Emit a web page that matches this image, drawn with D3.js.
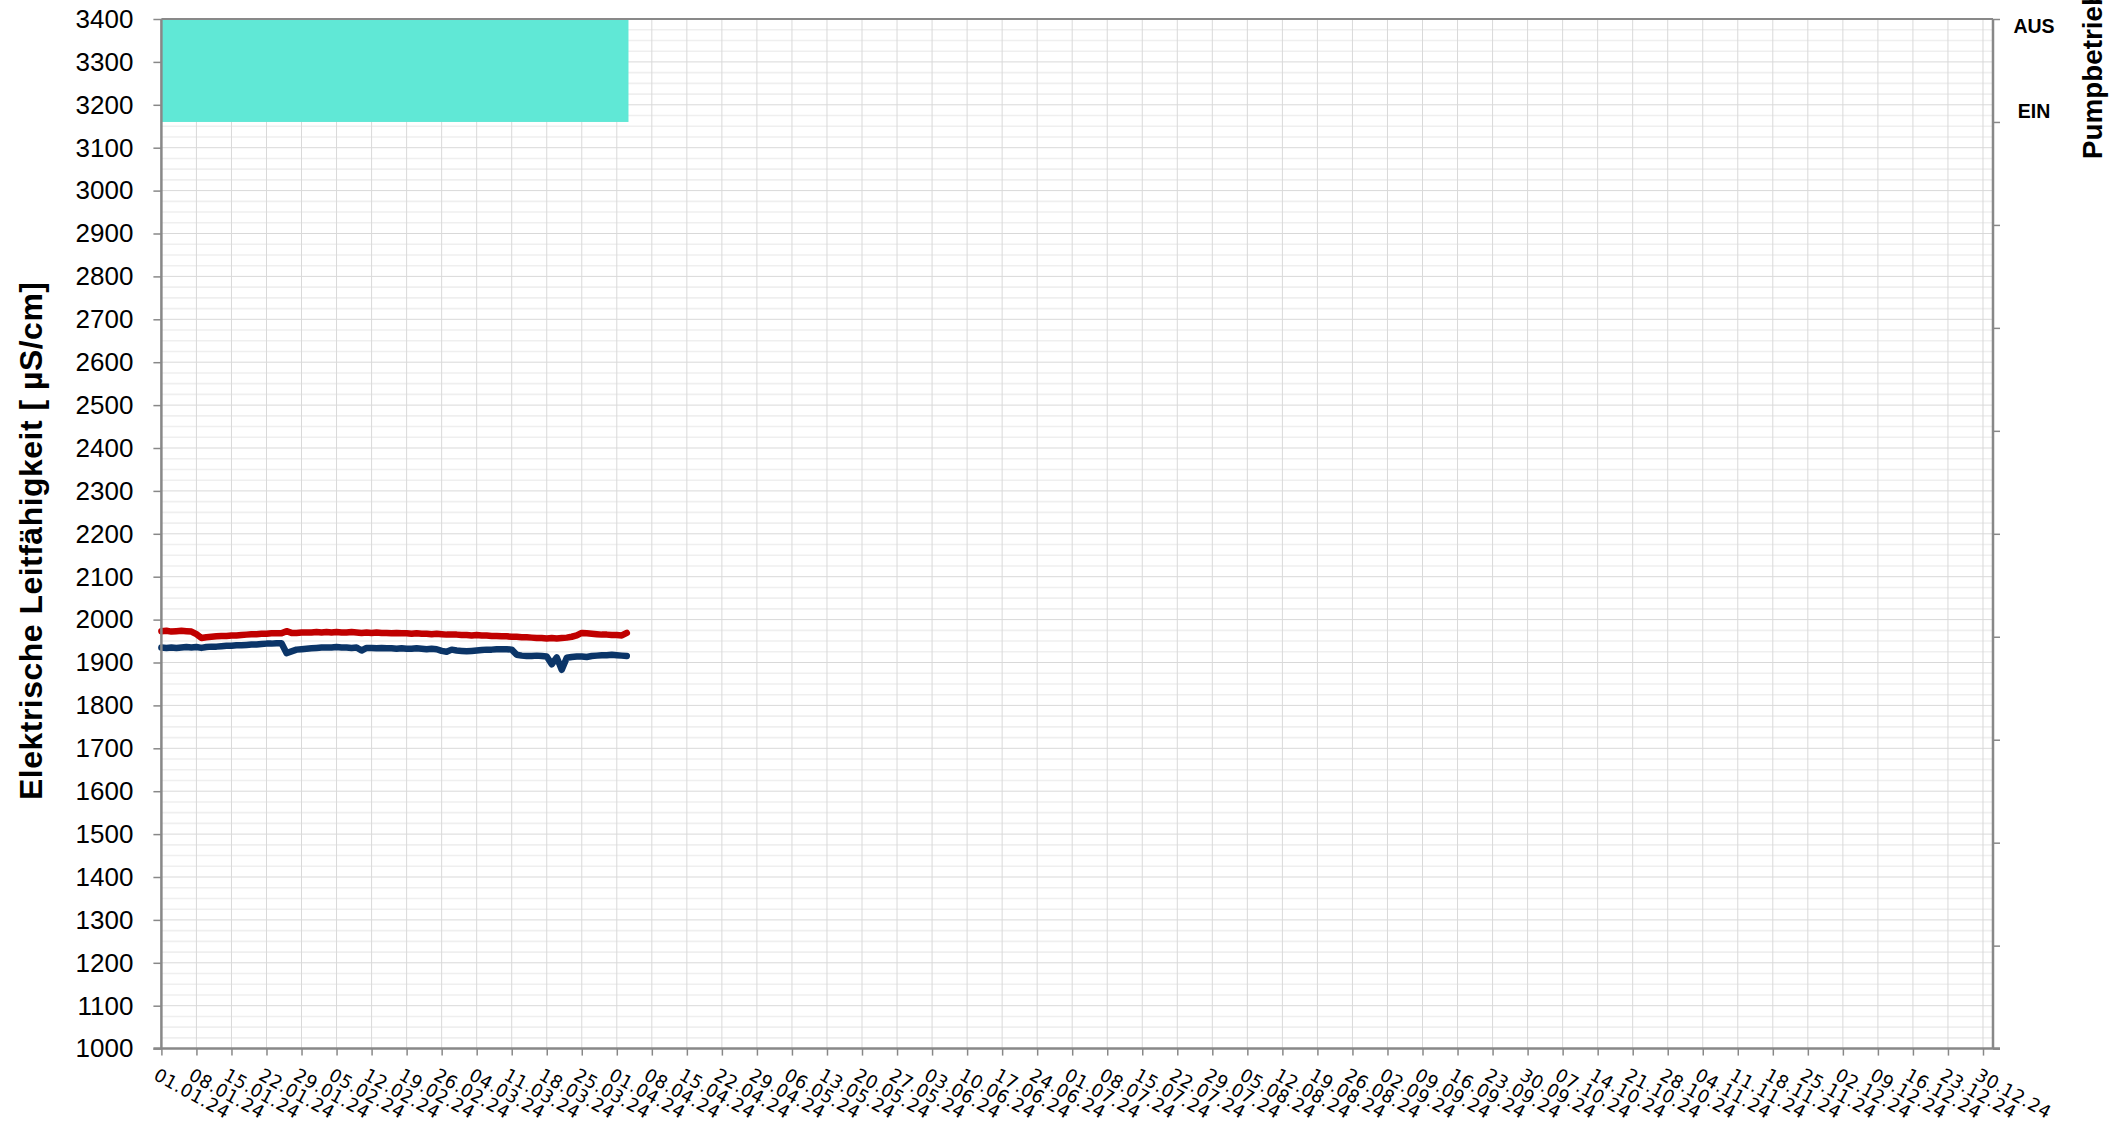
<!DOCTYPE html>
<html>
<head>
<meta charset="utf-8">
<script src="https://cdn.jsdelivr.net/npm/d3@7/dist/d3.min.js"></script>
<style>
  html, body { margin: 0; padding: 0; background: #ffffff; }
  svg { display: block; }
</style>
</head>
<body>
<svg id="chart" width="2127" height="1125"></svg>
<script>
// ---------------- DATA ----------------
const yTicks = [1000,1100,1200,1300,1400,1500,1600,1700,1800,1900,2000,2100,2200,2300,2400,2500,2600,2700,2800,2900,3000,3100,3200,3300,3400];
const xDomain = ["01.01.24", "01.01.25"];
const xTickFirst = "01.01.24";
const xTickLast = "30.12.24";
const seriesStart = "01.01.24";   // daily values start here

// red series (µS/cm), one value per day from 01.01.24
const redValues = [
  1973,1974,1972,1973,1974,1973,1972,1966,1957,1959,
  1960,1961,1962,1962,1963,1963,1964,1965,1966,1966,
  1967,1967,1968,1968,1968,1973,1969,1969,1970,1970,
  1970,1971,1970,1971,1970,1971,1970,1970,1971,1970,
  1969,1970,1969,1970,1969,1969,1968,1969,1968,1968,
  1967,1968,1967,1967,1966,1967,1966,1965,1965,1965,
  1964,1964,1963,1964,1963,1963,1962,1962,1961,1961,
  1960,1960,1959,1959,1958,1957,1957,1956,1957,1956,
  1957,1958,1960,1963,1969,1968,1967,1966,1965,1965,
  1964,1964,1963,1969
];
// blue series (µS/cm), one value per day from 01.01.24
const blueValues = [
  1935,1934,1935,1934,1935,1936,1935,1936,1934,1936,
  1937,1937,1938,1939,1939,1940,1940,1941,1942,1942,
  1943,1944,1944,1945,1945,1922,1926,1930,1931,1932,
  1933,1934,1935,1935,1935,1936,1935,1935,1934,1935,
  1928,1934,1934,1933,1934,1933,1933,1932,1933,1932,
  1932,1933,1932,1931,1932,1931,1927,1925,1930,1928,
  1927,1926,1927,1928,1929,1930,1930,1931,1931,1931,
  1930,1918,1916,1915,1915,1916,1915,1914,1896,1912,
  1883,1911,1913,1914,1914,1913,1915,1916,1917,1917,
  1918,1917,1916,1915
];
// pump operation (secondary axis)
const pumpStart = ["01.01.24 00:00"];
const pumpEnd   = ["03.04.24 08:00"];
const pumpLow   = [9];
const pumpHigh  = [10];
const pumpLabelText  = ["AUS", "EIN"];
const pumpLabelValue = [9.93, 9.1];
const rightTicks = [0,1,2,3,4,5,6,7,8,9,10];

const yTitle = "Elektrische Leitfähigkeit  [ µS/cm]";
const rTitle = "Pumpbetrieb";

// ---------------- LAYOUT ----------------
const L = 161.4, R = 1993, T = 19, B = 1048.6;
const svg = d3.select("#chart");

const parseD = d3.timeParse("%d.%m.%y");
const parseDT = d3.timeParse("%d.%m.%y %H:%M");
const x = d3.scaleTime().domain(xDomain.map(parseD)).range([L, R]);
const y = d3.scaleLinear().domain([1000, 3400]).range([B, T]);
const yR = d3.scaleLinear().domain([0, 10]).range([B, T]);

const weeks = d3.timeDay.range(parseD(xTickFirst), d3.timeDay.offset(parseD(xTickLast), 1), 7);
const minorY = d3.range(1000, 3401, 25).filter(v => v % 100 !== 0);

const grid = svg.append("g");
grid.selectAll(".hmin").data(minorY).join("line")
  .attr("x1", L).attr("x2", R)
  .attr("y1", d => y(d)).attr("y2", d => y(d))
  .attr("stroke", "#efefef").attr("stroke-width", 1.6);
grid.selectAll(".hmaj").data(yTicks).join("line")
  .attr("x1", L).attr("x2", R)
  .attr("y1", d => y(d)).attr("y2", d => y(d))
  .attr("stroke", "#d9d9d9").attr("stroke-width", 1);
grid.selectAll(".v").data(weeks).join("line")
  .attr("x1", d => x(d)).attr("x2", d => x(d))
  .attr("y1", T).attr("y2", B)
  .attr("stroke", "#d9d9d9").attr("stroke-width", 1);

// pump area
svg.append("g").selectAll("rect").data(pumpStart.map((s, i) => ({
    s: parseDT(s), e: parseDT(pumpEnd[i]), lo: pumpLow[i], hi: pumpHigh[i]})))
  .join("rect")
  .attr("x", d => x(d.s)).attr("width", d => x(d.e) - x(d.s))
  .attr("y", d => yR(d.hi)).attr("height", d => yR(d.lo) - yR(d.hi))
  .attr("fill", "#60e8d6");

// lines
const t0 = parseD(seriesStart);
const line = d3.line().x(d => x(d[0])).y(d => y(d[1]));
function drawSeries(vals, color) {
  const pts = vals.map((v, i) => [d3.timeDay.offset(t0, i), v]);
  svg.append("path").datum(pts)
    .attr("d", line).attr("fill", "none")
    .attr("stroke", color).attr("stroke-width", 6.5)
    .attr("stroke-linejoin", "round").attr("stroke-linecap", "round");
}
drawSeries(redValues, "#c00000");
drawSeries(blueValues, "#0b3568");

// border top
svg.append("line").attr("x1", L).attr("x2", R).attr("y1", T).attr("y2", T)
  .attr("stroke", "#898989").attr("stroke-width", 2);

// axes
const axisColor = "#888888";
const gL = svg.append("g").attr("transform", `translate(${L},0)`)
  .call(d3.axisLeft(y).tickValues(yTicks).tickSize(8).tickPadding(20).tickFormat(d3.format("d")));
gL.selectAll("text").attr("font-family", "'Liberation Sans', Arial, sans-serif")
  .attr("font-size", 26).attr("fill", "#000");

const gB = svg.append("g").attr("transform", `translate(0,${B})`)
  .call(d3.axisBottom(x).tickValues(weeks).tickSize(7).tickFormat(d3.timeFormat("%d.%m.%y")));
gB.selectAll("text")
  .attr("x", null).attr("y", null).attr("dy", "0.74em")
  .attr("text-anchor", "start")
  .attr("transform", "translate(-3,18.5) rotate(29)")
  .attr("font-family", "'DejaVu Sans', Verdana, sans-serif")
  .attr("font-size", 18).attr("letter-spacing", 0.4).attr("fill", "#000");

const gR = svg.append("g").attr("transform", `translate(${R},0)`)
  .call(d3.axisRight(yR).tickValues(rightTicks).tickSize(7).tickFormat(""));

[gL, gB, gR].forEach(g => {
  g.select(".domain").attr("stroke", axisColor).attr("stroke-width", 2.5);
  g.selectAll(".tick line").attr("stroke", axisColor).attr("stroke-width", 1.5);
});
gL.select(".domain").attr("d", `M0,${T}V${B}`);
gB.select(".domain").attr("d", `M${L - 8},0H${R + 7}`);
gR.select(".domain").attr("d", `M0,${T}V${B}`);

// right axis labels
svg.append("g").selectAll("text").data(pumpLabelText).join("text")
  .attr("x", 2034).attr("y", (d, i) => yR(pumpLabelValue[i]))
  .attr("dy", "0.35em").attr("text-anchor", "middle")
  .attr("font-family", "'Liberation Sans', Arial, sans-serif")
  .attr("font-weight", "bold").attr("font-size", 19.5).attr("fill", "#000")
  .text(d => d);

// axis titles
svg.append("text")
  .attr("transform", `translate(41.5,541) rotate(-90)`)
  .attr("text-anchor", "middle")
  .attr("font-family", "'Liberation Sans', Arial, sans-serif")
  .attr("font-weight", "bold").attr("font-size", 32).attr("fill", "#000")
  .attr("textLength", 518).attr("lengthAdjust", "spacing")
  .text(yTitle);

svg.append("text")
  .attr("transform", `translate(2102,159) rotate(-90)`)
  .attr("text-anchor", "start")
  .attr("font-family", "'Liberation Sans', Arial, sans-serif")
  .attr("font-weight", "bold").attr("font-size", 27.8).attr("fill", "#000")
  .text(rTitle);
</script>
</body>
</html>
